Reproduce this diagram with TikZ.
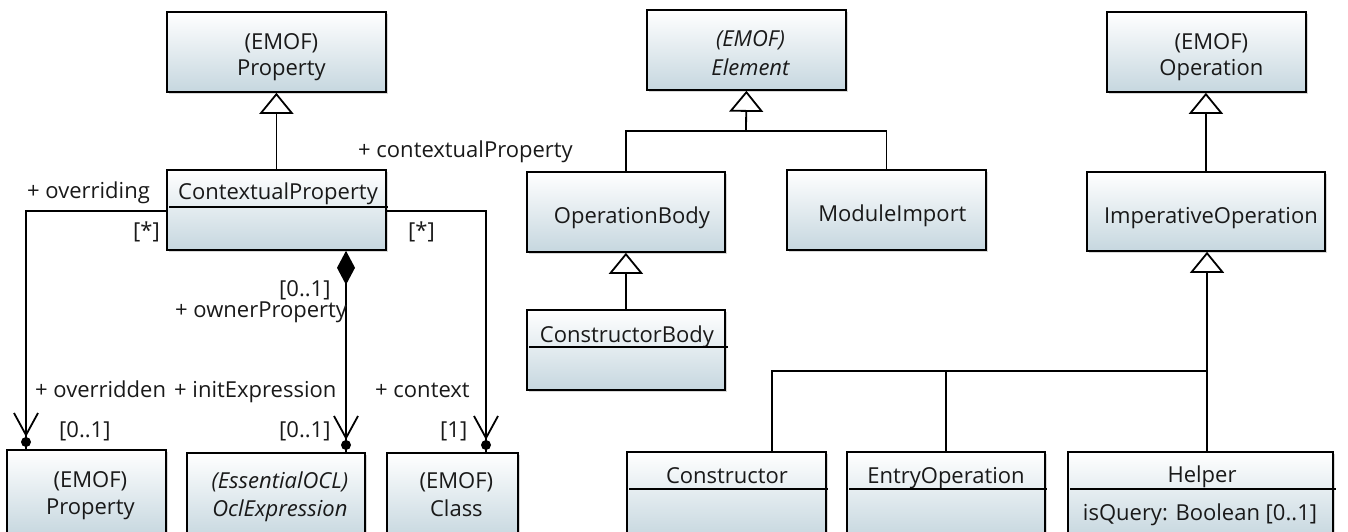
\documentclass[tikz,border=0pt]{standalone}
\usepackage{fontspec}
\setmainfont{Open Sans}
\usetikzlibrary{arrows.meta,shadows,calc}
\definecolor{boxblue}{RGB}{198,215,223}
\newcommand\assocend[1]{%
  \fill #1 ++(0,-7) circle (5pt);
  \draw[line] #1 ++(-12,-36) -- ++(12,22) -- ++(12,-22);}
\begin{document}
\begin{tikzpicture}[x=1pt,y=-1pt,
  every node/.style={font=\fontsize{22}{26}\selectfont, inner sep=0pt, text=black!90},
  box/.style={draw=black, line width=1.8pt, top color=white, bottom color=boxblue,
    anchor=north west,
    drop shadow={shadow xshift=2pt, shadow yshift=-2pt, fill=black!30, opacity=0.5}},
  t/.style={anchor=base},
  line/.style={line width=1.8pt},
  gen/.style={line width=1.8pt, -{Triangle[length=21pt,width=34pt,fill=white]}},
  lbl/.style={anchor=base west}
]
\useasboundingbox (0,0) rectangle (1348,531);
% ---------- left part ----------
\node[box, minimum width=219pt, minimum height=80pt] (PT) at (166,11) {};
\node[t] (PTa) at ($(PT.north)+(5,38)$) {(EMOF)};
\node[t] (PTb) at ($(PT.north)+(5,64)$) {Property};
\node[box, minimum width=219pt, minimum height=80pt] (CP) at (166,169) {};
\node[t] (CPt) at (278,199) {ContextualProperty};
\draw[line] (169,207) -- (388,207);
\draw[gen] (CP.north) -- (PT.south);

\node[box, minimum width=159pt, minimum height=86pt] (PB) at (6,449) {};
\node[t] (PBa) at ($(PB.north)+(4,38)$) {(EMOF)};
\node[t] (PBb) at ($(PB.north)+(4,65)$) {Property};
\node[box, minimum width=178pt, minimum height=86pt] (OE) at (186,452) {};
\node[t] (OEa) at ($(OE.north)+(4,36)$) {\itshape (EssentialOCL)};
\node[t] (OEb) at ($(OE.north)+(4,64)$) {\itshape OclExpression};
\node[box, minimum width=131pt, minimum height=86pt] (CL) at (386,452) {};
\node[t] (CLa) at ($(CL.north)+(4,36)$) {(EMOF)};
\node[t] (CLb) at ($(CL.north)+(4,64)$) {Class};

\coordinate (ovx) at (26,211);
\coordinate (mx) at (346,0);
\coordinate (rx) at (486,211);
\draw[line] (CP.west |- ovx) -- (ovx) -- (PB.north -| ovx);
\assocend{(PB.north -| ovx)}
\draw[line, {Diamond[length=34pt,width=18pt]}-] (CP.south -| mx) -- (OE.north -| mx);
\assocend{(OE.north -| mx)}
\draw[line] (CP.east |- rx) -- (rx) -- (CL.north -| rx);
\assocend{(CL.north -| rx)}

\node[lbl] (l1) at (27,198) {+ overriding};
\node[lbl] (l2) at (133,238) {[*]};
\node[lbl] (l3) at (408,238) {[*]};
\node[lbl] (l4) at (358,157) {+ contextualProperty};
\node[lbl] (l5) at (279,296) {[0..1]};
\node[lbl] (l6) at (175,317) {+ ownerProperty};
\node[lbl] (l7) at (35,397) {+ overridden};
\node[lbl] (l8) at (174,397) {+ initExpression};
\node[lbl] (l9) at (375,397) {+ context};
\node[lbl] (l10) at (59,437) {[0..1]};
\node[lbl] (l11) at (279,437) {[0..1]};
\node[lbl] (l12) at (440,437) {[1]};

% ---------- middle part ----------
\node[box, minimum width=199pt, minimum height=80pt] (EL) at (646,9) {};
\node[t] (ELa) at ($(EL.north)+(4,37)$) {\itshape (EMOF)};
\node[t] (ELb) at ($(EL.north)+(4,66)$) {\itshape Element};
\node[box, minimum width=198pt, minimum height=80pt] (OB) at (526,171) {};
\node[t] (OBt) at ($(OB.north)+(6,52)$) {OperationBody};
\node[box, minimum width=199pt, minimum height=80pt] (MI) at (786,169) {};
\node[t] (MIt) at ($(MI.north)+(6,52)$) {ModuleImport};
\coordinate (j1) at (746,131);
\draw[line] (OB.north) |- (j1) -| (MI.north);
\draw[gen] (j1) -- (EL.south);
\node[box, minimum width=198pt, minimum height=80pt] (CB) at (526,309) {};
\node[t] (CBt) at (627,342) {ConstructorBody};
\draw[line] (529,347) -- (728,347);
\draw[gen] (CB.north) -- (OB.south);

% ---------- right part ----------
\node[box, minimum width=199pt, minimum height=80pt] (OP) at (1106,11) {};
\node[t] (OPa) at ($(OP.north)+(5,38)$) {(EMOF)};
\node[t] (OPb) at ($(OP.north)+(5,64)$) {Operation};
\node[box, minimum width=238pt, minimum height=79pt] (IO) at (1086,171) {};
\node[t] (IOt) at ($(IO.north)+(5,52)$) {ImperativeOperation};
\draw[gen] (IO.north) -- (IO.north |- OP.south);

\node[box, minimum width=199pt, minimum height=86pt] (CO) at (626,451) {};
\node[t] (COt) at (727,483) {Constructor};
\draw[line] (629,489) -- (828,489);
\node[box, minimum width=198pt, minimum height=86pt] (EO) at (846,451) {};
\node[t] (EOt) at (946,483) {EntryOperation};
\draw[line] (849,489) -- (1047,489);
\node[box, minimum width=265pt, minimum height=86pt] (HE) at (1067,451) {};
\node[t] (HEt) at (1202,482) {Helper};
\draw[line] (1070,489) -- (1336,489);
\node[t] (HEa) at (1200,520) {isQuery: Boolean [0..1]};

\coordinate (j2) at (1207,371);
\coordinate (cox) at (772,371);
\draw[gen] (HE.north -| j2) -- (IO.south -| j2);
\draw[line] (CO.north -| cox) -- (cox) -- (j2);
\draw[line] (EO.north) |- (j2);
\end{tikzpicture}
\end{document}
